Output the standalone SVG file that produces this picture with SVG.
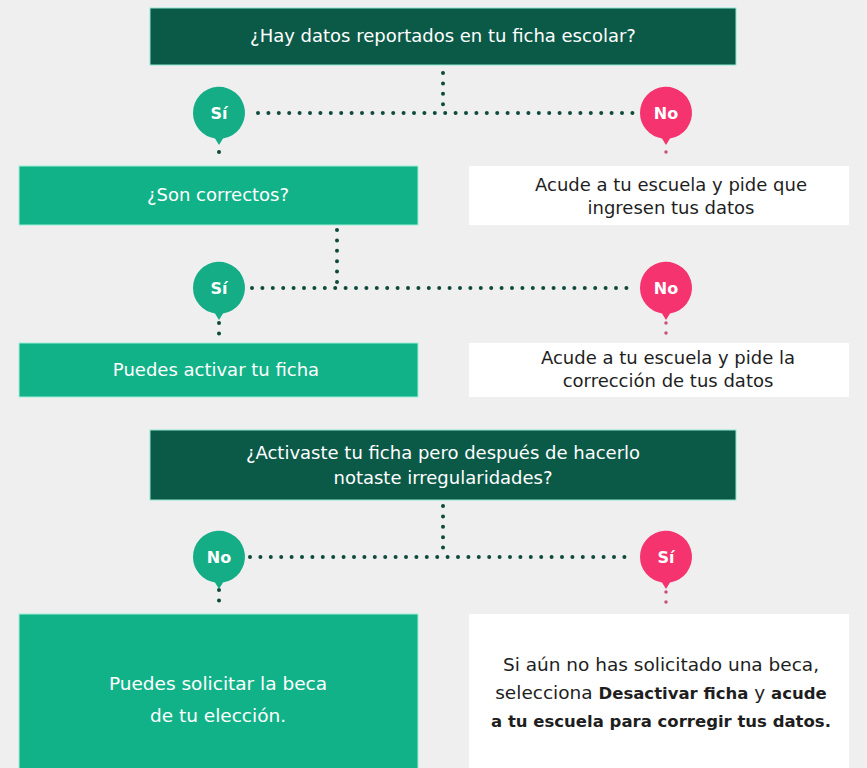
<svg xmlns="http://www.w3.org/2000/svg" width="867" height="768" viewBox="0 0 867 768">
<defs>
<style>
.bg{fill:#efefef}
.dark{fill:#0b5a48;stroke:#8fe8d2;stroke-width:1}
.green{fill:#12b289;stroke:#9ff0d9;stroke-width:1}
.white{fill:#ffffff}
.t{font-family:"DejaVu Sans","Liberation Sans",sans-serif;font-size:18px;text-anchor:middle}
.big{font-size:18.5px}
.b{font-weight:700;font-size:16.5px}
.tw{fill:#ffffff}
.tk{fill:#1e1e1e}
.lab{font-family:"DejaVu Sans","Liberation Sans",sans-serif;font-size:16px;font-weight:700;fill:#ffffff;text-anchor:middle}
.dots{fill:none;stroke:#0d4a3c;stroke-width:4;stroke-linecap:round;stroke-dasharray:0 10.4}
.pdots{fill:none;stroke:#c94f7f;stroke-width:3.5;stroke-linecap:round;stroke-dasharray:0 10}
.pg{fill:#14ad86}
.pp{fill:#f5336f}
</style>
</defs>
<rect class="bg" x="0" y="0" width="867" height="768"/>

<g id="connectors">
<path class="dots" d="M443 73 V113"/>
<path class="dots" d="M258 113 H634"/>
<path class="dots" d="M219 152 V152"/>
<path class="pdots" d="M666 152 V152"/>
<path class="dots" d="M337 230 V288"/>
<path class="dots" d="M252 288 H632"/>
<path class="dots" d="M219 323 V336"/>
<path class="pdots" d="M666 323 V336"/>
<path class="dots" d="M443 506 V557"/>
<path class="dots" d="M250 557 H632"/>
<path class="dots" d="M219 590 V608"/>
<path class="pdots" d="M666 592 V604"/>
</g>

<g id="q1">
<rect class="dark" x="150" y="8" width="586" height="57"/>
<text class="t tw" x="443" y="42">¿Hay datos reportados en tu ficha escolar?</text>
</g>

<g id="si1">
<path class="pg" d="M193 113 a26 26 0 1 1 30 25.5 L219 145 L215 138.5 A26 26 0 0 1 193 113 Z"/>
<text class="lab" x="219" y="119">Sí</text>
</g>
<g id="no1">
<path class="pp" d="M640 113 a26 26 0 1 1 30 25.5 L666 145 L662 138.5 A26 26 0 0 1 640 113 Z"/>
<text class="lab" x="666" y="119">No</text>
</g>

<g id="q2">
<rect class="green" x="19" y="166" width="399" height="59"/>
<text class="t tw" x="218" y="201">¿Son correctos?</text>
</g>
<g id="r1">
<rect class="white" x="469" y="166" width="380" height="59"/>
<text class="t tk" x="671" y="191">Acude a tu escuela y pide que</text>
<text class="t tk" x="671" y="214">ingresen tus datos</text>
</g>

<g id="si2">
<path class="pg" d="M193 288 a26 26 0 1 1 30 25.5 L219 320 L215 313.5 A26 26 0 0 1 193 288 Z"/>
<text class="lab" x="219" y="294">Sí</text>
</g>
<g id="no2">
<path class="pp" d="M640 288 a26 26 0 1 1 30 25.5 L666 320 L662 313.5 A26 26 0 0 1 640 288 Z"/>
<text class="lab" x="666" y="294">No</text>
</g>

<g id="r2">
<rect class="green" x="19" y="343" width="399" height="54"/>
<text class="t tw" x="216" y="376">Puedes activar tu ficha</text>
</g>
<g id="r3">
<rect class="white" x="469" y="343" width="380" height="54"/>
<text class="t tk" x="668" y="364">Acude a tu escuela y pide la</text>
<text class="t tk" x="668" y="387">corrección de tus datos</text>
</g>

<g id="q3">
<rect class="dark" x="150" y="430" width="586" height="70"/>
<text class="t tw" x="443" y="459">¿Activaste tu ficha pero después de hacerlo</text>
<text class="t tw" x="443" y="484">notaste irregularidades?</text>
</g>

<g id="no3">
<path class="pg" d="M193 557 a26 26 0 1 1 30 25.5 L219 589 L215 582.5 A26 26 0 0 1 193 557 Z"/>
<text class="lab" x="219" y="563">No</text>
</g>
<g id="si3">
<path class="pp" d="M640 557 a26 26 0 1 1 30 25.5 L666 589 L662 582.5 A26 26 0 0 1 640 557 Z"/>
<text class="lab" x="666" y="563">Sí</text>
</g>

<g id="r4">
<rect class="green" x="19" y="614" width="399" height="160"/>
<text class="t big tw" x="218" y="690">Puedes solicitar la beca</text>
<text class="t big tw" x="218" y="722">de tu elección.</text>
</g>
<g id="r5">
<rect class="white" x="469" y="614" width="380" height="160"/>
<text class="t big tk" x="661" y="671">Si aún no has solicitado una beca,</text>
<text class="t big tk" x="661" y="699">selecciona <tspan class="b">Desactivar ficha</tspan> y <tspan class="b">acude</tspan></text>
<text class="t big tk" x="661" y="727"><tspan class="b">a tu escuela para corregir tus datos.</tspan></text>
</g>
</svg>
